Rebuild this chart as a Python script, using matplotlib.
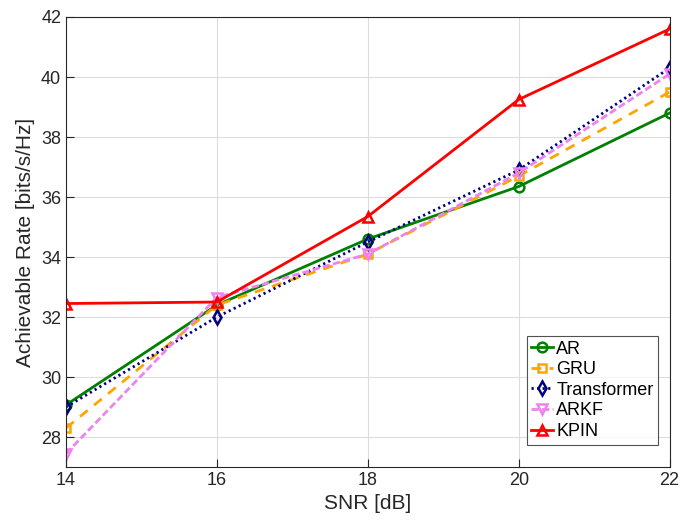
import matplotlib.pyplot as plt

plt.rcParams['font.family'] = ['Liberation Sans', 'DejaVu Sans']

snr = [14, 16, 18, 20, 22]
ar = [29.07, 32.4, 34.6, 36.35, 38.8]
gru = [28.3, 32.4, 34.1, 36.7, 39.5]
transformer = [29.0, 32.0, 34.5, 36.9, 40.3]
arkf = [27.45, 32.65, 34.1, 36.8, 40.1]
kpin = [32.45, 32.5, 35.35, 39.25, 41.6]

fig = plt.figure(figsize=(6.97, 5.23), dpi=100)
ax = fig.add_axes([0.0947, 0.107, 0.866, 0.8605])

mk = dict(markersize=7, markerfacecolor='none', markeredgewidth=1.8, linewidth=2)
ax.plot(snr, ar, '-o', color='#008000', label='AR', **mk)
ax.plot(snr, gru, '--s', color='#FFA500', label='GRU', dashes=(3.6, 2.9), markersize=5.5,
        markerfacecolor='none', markeredgewidth=1.8, linewidth=2)
ax.plot(snr, transformer, ':d', color='#000080', label='Transformer', dashes=(0.8, 1.2), **mk)
ax.plot(snr, arkf, '--v', color='#EE82EE', label='ARKF', dashes=(2.6, 1.2), **mk)
ax.plot(snr, kpin, '-^', color='#FF0000', label='KPIN', **mk)

ax.set_xlim(14, 22)
ax.set_ylim(27, 42)
ax.set_xticks(snr)
ax.set_yticks(range(28, 43, 2))
ax.tick_params(direction='in', labelsize=13, length=6, colors='#262626')
ax.grid(True, color='#dcdcdc', linewidth=0.8)
for s in ax.spines.values():
    s.set_color('#262626')
ax.set_xlabel('SNR [dB]', fontsize=15, color='#262626')
ax.set_ylabel('Achievable Rate [bits/s/Hz]', fontsize=15, color='#262626')

leg = ax.legend(loc='lower right', fontsize=13, fancybox=False, edgecolor='#262626',
                handlelength=1.2, handletextpad=0.2, borderpad=0.25, labelspacing=0.2,
                bbox_to_anchor=(0.996, 0.03))
leg.get_frame().set_linewidth(0.8)

plt.savefig('out.png')
